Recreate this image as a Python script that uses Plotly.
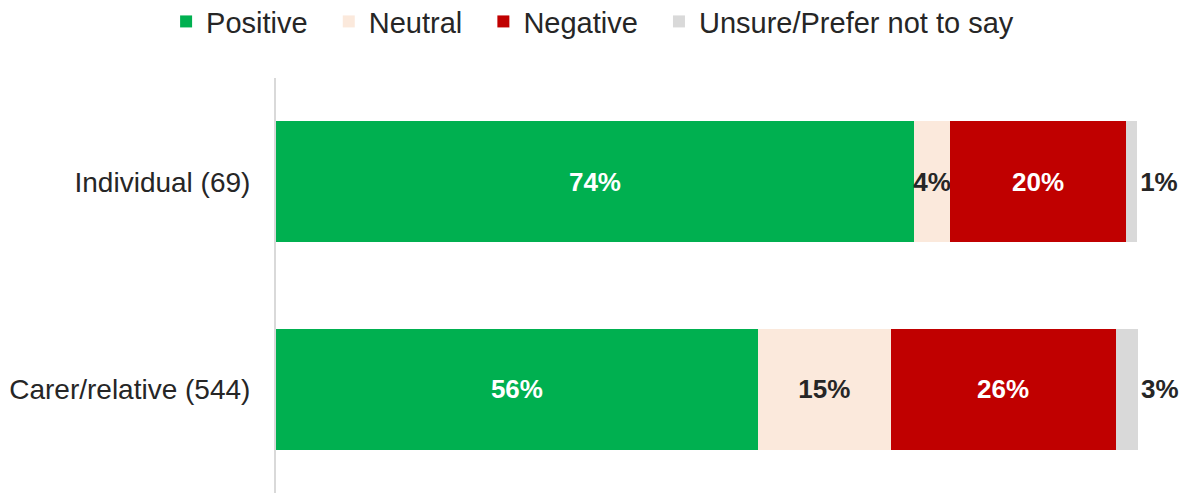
import plotly.graph_objects as go

# Respondent groups (top to bottom)
GROUPS = ["Individual (69)", "Carer/relative (544)"]

# Share of responses, %
POSITIVE = [74.0, 55.9]
NEUTRAL = [4.2, 15.4]
NEGATIVE = [20.4, 26.1]
UNSURE = [1.3, 2.6]

FONT = "Liberation Sans, Arial, sans-serif"
DARK = "#262626"
PAD = "\u00a0\u00a0"  # a little extra room between legend entries

# name, values, fill colour, label colour, label position
SERIES = [
    ("Positive", POSITIVE, "#00B050", "white", "inside"),
    ("Neutral", NEUTRAL, "#FBE9DC", DARK, "inside"),
    ("Negative", NEGATIVE, "#C00000", "white", "inside"),
    ("Unsure/Prefer not to say", UNSURE, "#D9D9D9", DARK, "outside"),
]

fig = go.Figure()

for i, (name, vals, color, txtcolor, pos) in enumerate(SERIES):
    fig.add_trace(go.Bar(
        name=name + (PAD if i < len(SERIES) - 1 else ""),
        y=GROUPS,
        x=vals,
        orientation="h",
        marker=dict(color=color, line=dict(width=0)),
        texttemplate="%{x:.0f}%",
        textposition=pos,
        textangle=0,
        insidetextanchor="middle",
        constraintext="none",
        cliponaxis=False,
        textfont=dict(family=FONT, size=26, color=txtcolor, weight="bold"),
        hovertemplate="%{y}<br>" + name + ": %{x:.0f}%<extra></extra>",
    ))

# the page body adds an 8px offset, so the figure is 8px smaller than the window
fig.update_layout(
    barmode="stack",
    bargap=0.418,
    width=1181,
    height=485,
    margin=dict(l=268, r=51, t=70, b=0),
    paper_bgcolor="white",
    plot_bgcolor="white",
    font=dict(family=FONT, color=DARK),
    showlegend=True,
    legend=dict(
        orientation="h",
        xref="container", yref="container",
        x=0.495, xanchor="center",
        y=0.972, yanchor="middle",
        font=dict(family=FONT, size=29, color=DARK),
        traceorder="normal",
        itemclick=False,
    ),
    xaxis=dict(
        range=[0, 100],
        visible=False,
        showgrid=False,
        zeroline=False,
    ),
    yaxis=dict(
        autorange="reversed",
        showline=True,
        linecolor="#D9D9D9",
        linewidth=2,
        showgrid=False,
        ticks="",
        ticklabelstandoff=18,
        tickfont=dict(family=FONT, size=28, color=DARK),
    ),
)

fig.write_html("out.html")
